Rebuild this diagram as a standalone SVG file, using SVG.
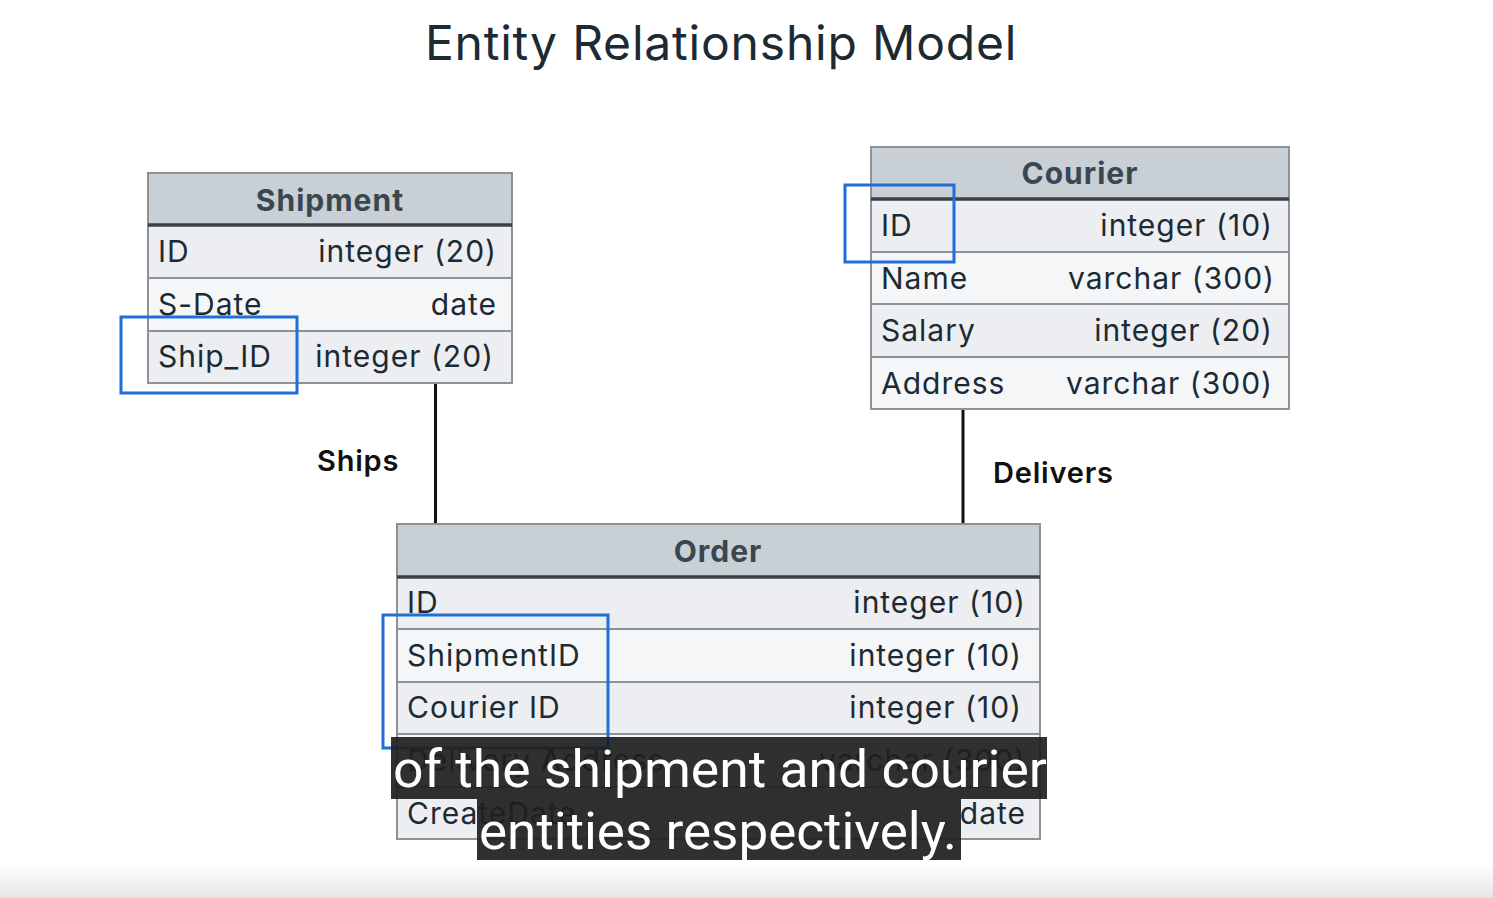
<svg xmlns="http://www.w3.org/2000/svg" width="1493" height="898" viewBox="0 0 1493 898">
<style>
.hdr{fill:#c8cfd5;stroke:#8d9296;stroke-width:2}
.hline{stroke:#3a4249;stroke-width:3.5}
.ra{fill:#eceef1;stroke:#8d9296;stroke-width:2}
.rb{fill:#f5f6f8;stroke:#8d9296;stroke-width:2}
.ht{font-family:Inter,"Open Sans",sans-serif;font-weight:700;font-size:30px;letter-spacing:1px;fill:#3a4650;text-anchor:middle}
.ft{font-family:Inter,"Open Sans",sans-serif;font-size:30px;letter-spacing:1px;fill:#1c2b33}
.tr{text-anchor:end}
.hl{fill:none;stroke:#1f6fd8;stroke-width:3}
.conn{stroke:#111;stroke-width:3}
.lbl{font-family:Inter,"Open Sans",sans-serif;font-weight:600;font-size:29px;letter-spacing:0.8px;fill:#111}
.sub{fill:#1e1e1e;fill-opacity:0.92}
.st{font-family:Roboto,"Liberation Sans",sans-serif;font-size:52px;fill:#fff}
</style>
<defs>
<linearGradient id="bg" x1="0" y1="0" x2="0" y2="1">
<stop offset="0" stop-color="#ffffff"/>
<stop offset="1" stop-color="#e5e5e5"/>
</linearGradient>
</defs>
<rect width="1493" height="898" fill="#fff"/>
<rect x="0" y="864" width="1493" height="34" fill="url(#bg)"/>
<text x="721" y="60" font-family="Inter,'Open Sans',sans-serif" font-size="48" letter-spacing="0.8" fill="#1c2b33" text-anchor="middle">Entity Relationship Model</text>

<g id="connectors">
<line class="conn" x1="435.5" y1="383" x2="435.5" y2="524"/>
<line class="conn" x1="963" y1="409" x2="963" y2="524"/>
<text class="lbl" x="317" y="471">Ships</text>
<text class="lbl" x="993" y="483">Delivers</text>
</g>

<g id="shipment">
<rect class="hdr" x="148" y="173" width="364" height="52"/>
<text class="ht" x="330" y="211">Shipment</text>
<rect class="ra" x="148" y="225" width="364" height="53"/>
<rect class="rb" x="148" y="278" width="364" height="53"/>
<rect class="ra" x="148" y="331" width="364" height="52"/>
<line class="hline" x1="148" y1="225" x2="512" y2="225"/>
<text class="ft" x="158" y="262">ID</text><text class="ft tr" x="497" y="262">integer (20)</text>
<text class="ft" x="158" y="315">S-Date</text><text class="ft tr" x="497" y="315">date</text>
<text class="ft" x="158" y="367">Ship_ID</text><text class="ft tr" x="494" y="367">integer (20)</text>
<rect class="hl" x="121" y="317" width="176" height="76"/>
</g>

<g id="courier">
<rect class="hdr" x="871" y="147" width="418" height="52"/>
<text class="ht" x="1080" y="184">Courier</text>
<rect class="ra" x="871" y="199" width="418" height="53"/>
<rect class="rb" x="871" y="252" width="418" height="52"/>
<rect class="ra" x="871" y="304" width="418" height="53"/>
<rect class="rb" x="871" y="357" width="418" height="52"/>
<line class="hline" x1="871" y1="199" x2="1289" y2="199"/>
<text class="ft" x="881" y="236">ID</text><text class="ft tr" x="1273" y="236">integer (10)</text>
<text class="ft" x="881" y="289">Name</text><text class="ft tr" x="1275" y="289">varchar (300)</text>
<text class="ft" x="881" y="341">Salary</text><text class="ft tr" x="1273" y="341">integer (20)</text>
<text class="ft" x="881" y="394">Address</text><text class="ft tr" x="1273" y="394">varchar (300)</text>
<rect class="hl" x="845" y="185" width="109" height="77"/>
</g>

<g id="order">
<rect class="hdr" x="397" y="524" width="643" height="53"/>
<text class="ht" x="718" y="562">Order</text>
<rect class="ra" x="397" y="577" width="643" height="52"/>
<rect class="rb" x="397" y="629" width="643" height="53"/>
<rect class="ra" x="397" y="682" width="643" height="52"/>
<rect class="rb" x="397" y="734" width="643" height="53"/>
<rect class="ra" x="397" y="787" width="643" height="52"/>
<line class="hline" x1="397" y1="577" x2="1040" y2="577"/>
<text class="ft" x="407" y="613">ID</text><text class="ft tr" x="1026" y="613">integer (10)</text>
<text class="ft" x="407" y="666">ShipmentID</text><text class="ft tr" x="1022" y="666">integer (10)</text>
<text class="ft" x="407" y="718">Courier ID</text><text class="ft tr" x="1022" y="718">integer (10)</text>
<text class="ft" x="407" y="771">Delivery Address</text><text class="ft tr" x="1026" y="771">varchar (300)</text>
<text class="ft" x="407" y="824">CreateDate</text><text class="ft tr" x="1026" y="824">date</text>
<rect class="hl" x="383" y="615" width="225" height="133"/>
</g>

<g id="subtitles">
<rect class="sub" x="391" y="737" width="656" height="62"/>
<rect class="sub" x="477" y="799" width="484" height="61"/>
<text class="st" x="393" y="787" textLength="654" lengthAdjust="spacingAndGlyphs">of the shipment and courier</text>
<text class="st" x="479" y="849" textLength="478" lengthAdjust="spacingAndGlyphs">entities respectively.</text>
</g>
</svg>
